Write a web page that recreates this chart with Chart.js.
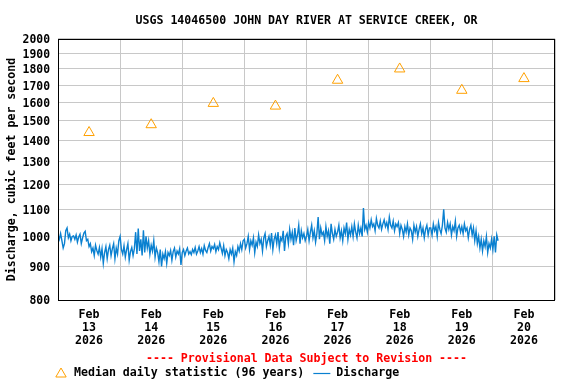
<!DOCTYPE html>
<html><head><meta charset="utf-8">
<script src="https://cdn.jsdelivr.net/npm/chart.js@4/dist/chart.umd.min.js"></script>
<style>html,body{margin:0;padding:0;background:#fff;}#wrap{width:576px;height:384px;}</style>
</head><body><div id="wrap"><canvas id="c" width="576" height="384"></canvas></div>
<script>
const TITLE = 'USGS 14046500 JOHN DAY RIVER AT SERVICE CREEK, OR';
const Y_TITLE = 'Discharge, cubic feet per second';
const PROVISIONAL = '---- Provisional Data Subject to Revision ----';
const MEDIAN_LABEL = 'Median daily statistic (96 years)';
const DISCHARGE_LABEL = 'Discharge';
const MONTH_LABEL = 'Feb';
const YEAR_LABEL = '2026';
const DAY_LABELS = ['13','14','15','16','17','18','19','20'];
const Y_TICKS = [800,900,1000,1100,1200,1300,1400,1500,1600,1700,1800,1900,2000];
const MEDIAN_DAILY = [1440,1480,1595,1580,1730,1800,1670,1740];
const STEP_HOURS = 0.5;
const Q_FEB13 = [1005,990,1010,985,960,975,1020,1030,995,1008,985,1000,
 1002,990,1005,980,998,1008,975,995,1012,1018,985,990,
 965,975,948,960,935,970,952,940,962,930,958,910,
 945,965,925,955,970,935,958,975,925,960,940,985];
const Q_FEB14 = [1000,955,940,968,930,955,975,920,948,962,935,958,
 1015,940,1028,950,990,935,1022,945,1000,960,985,940,
 970,950,985,930,960,945,915,955,900,940,925,948,
 910,945,935,952,920,948,960,930,950,940,958,905];
const Q_FEB15 = [945,955,935,950,960,940,948,938,955,945,962,940,
 950,965,945,958,940,968,952,945,962,975,950,965,
 958,972,948,965,955,978,960,942,968,935,955,945,
 925,955,940,960,915,948,935,965,950,975,955,985];
const Q_FEB16 = [990,960,975,1000,955,985,970,995,945,980,965,1005,
 975,990,950,995,1010,965,985,1000,970,1012,955,990,
 1005,975,1015,960,995,985,1020,950,1000,1010,975,1025,
 990,1015,970,1030,985,1005,1040,975,1020,995,1010,985];
const Q_FEB17 = [1000,1025,985,1015,1040,995,1020,980,1010,1070,990,1030,
 1005,1015,985,1035,1000,1020,975,1045,1010,990,1025,1000,
 1015,1040,995,1020,985,1030,1010,1050,990,1025,1005,1035,
 1000,1045,1015,995,1040,1010,1030,1000,1105,1025,1040,1015];
const Q_FEB18 = [1050,1030,1060,1035,1045,1020,1065,1040,1030,1055,1025,1045,
 1060,1035,1050,1025,1070,1040,1030,1055,1020,1045,1035,1050,
 1010,1040,1025,1000,1035,1015,1045,1005,1030,1020,990,1040,
 1015,1035,1000,1025,1045,1010,1030,995,1025,1040,1005,1030];
const Q_FEB19 = [1030,1005,1045,1020,1035,1000,1050,1025,1010,1040,1100,1030,
 1015,1050,1025,1045,1005,1035,1020,1055,1000,1030,1040,1015,
 1035,1010,1045,1020,1030,995,1025,1040,1005,1030,985,1020,
 975,1000,960,990,950,985,965,1000,945,975,960,990];
const Q_FEB20 = [955,1000,945,1005,985];

const FONT = '"DejaVu Sans Mono", "Liberation Mono", monospace';
const BLUE = '#0a80d0';
const ORANGE = '#ffa000';
const GRID = '#c8c8c8';

const discharge = [].concat(Q_FEB13,Q_FEB14,Q_FEB15,Q_FEB16,Q_FEB17,Q_FEB18,Q_FEB19,Q_FEB20)
  .map((v,i)=>({x:i*STEP_HOURS, y:v}));
const medians = MEDIAN_DAILY.map((v,i)=>({x:12+24*i, y:v}));

const framePlugin = {
  id:'frame',
  afterDraw(chart){
    const {ctx, chartArea:a} = chart;
    ctx.save();
    ctx.strokeStyle = '#000'; ctx.lineWidth = 1;
    ctx.strokeRect(Math.round(a.left)+0.5, Math.round(a.top)+0.5, Math.round(a.right-a.left)-1, Math.round(a.bottom-a.top));
    ctx.restore();
  }
};
const footerPlugin = {
  id:'footer',
  afterDraw(chart){
    const {ctx, chartArea:a} = chart;
    ctx.save();
    ctx.font = 'bold 11.6px ' + FONT;
    ctx.textBaseline = 'middle';
    ctx.textAlign = 'center';
    ctx.fillStyle = '#ff0000';
    ctx.fillText(PROVISIONAL, (a.left+a.right)/2, 359);
    const ly = 373;
    ctx.strokeStyle = ORANGE; ctx.lineWidth = 1;
    ctx.beginPath();
    const r = 6, t = -Math.PI/2;
    for (let k=0;k<3;k++){ const ang = t + k*2*Math.PI/3; const px = 61 + Math.cos(ang)*r, py = ly + 1 + Math.sin(ang)*r; if(k===0) ctx.moveTo(px,py); else ctx.lineTo(px,py);} 
    ctx.closePath(); ctx.stroke();
    ctx.textAlign = 'left'; ctx.fillStyle = '#000';
    let x = 74;
    ctx.fillText(MEDIAN_LABEL, x, ly);
    x += ctx.measureText(MEDIAN_LABEL).width + 9;
    ctx.strokeStyle = BLUE; ctx.lineWidth = 1.2;
    ctx.beginPath(); ctx.moveTo(x, ly+0.5); ctx.lineTo(x+17, ly+0.5); ctx.stroke();
    ctx.fillText(DISCHARGE_LABEL, x+23, ly);
    ctx.restore();
  }
};

new Chart(document.getElementById('c'), {
  type:'line',
  data:{datasets:[
    {label:MEDIAN_LABEL, data:medians, showLine:false, pointStyle:'triangle', pointRadius:6, pointHoverRadius:6,
     borderColor:ORANGE, backgroundColor:'rgba(0,0,0,0)', pointBorderWidth:1, order:1},
    {label:DISCHARGE_LABEL, data:discharge, borderColor:BLUE, borderWidth:1.4, pointRadius:0, tension:0, order:2}
  ]},
  options:{
    responsive:false, animation:false, devicePixelRatio:1,
    layout:{padding:{left:0,right:21,top:0,bottom:0}},
    plugins:{
      legend:{display:false}, tooltip:{enabled:false},
      title:{display:true, text:TITLE, color:'#000', fullSize:false,
        font:{family:FONT, size:11.6, weight:'bold'}, padding:{top:14,bottom:11}}
    },
    scales:{
      x:{type:'linear', min:0, max:192,
        afterBuildTicks:(s)=>{ const t=[]; for(let h=0;h<=192;h+=12) t.push({value:h}); s.ticks=t; },
        afterFit:(s)=>{ s.height = 84; },
        grid:{color:(c)=> (c.tick && c.tick.value%24===0) ? GRID : 'rgba(0,0,0,0)', drawTicks:false, lineWidth:1},
        border:{display:false},
        ticks:{autoSkip:false, maxRotation:0, padding:8, color:'#000',
          font:{family:FONT, size:11.6, weight:'bold', lineHeight:1.15},
          callback:(v)=> (v%24===12) ? [MONTH_LABEL, DAY_LABELS[(v-12)/24], YEAR_LABEL] : ''}
      },
      y:{type:'logarithmic', min:800, max:2000,
        afterBuildTicks:(s)=>{ s.ticks = Y_TICKS.map(v=>({value:v})); },
        afterFit:(s)=>{ s.width = 58; },
        grid:{color:GRID, drawTicks:false, lineWidth:1},
        border:{display:false},
        ticks:{padding:8, labelOffset:1.5, color:'#000', font:{family:FONT, size:11.4, weight:'bold'}, callback:(v)=> String(v)},
        title:{display:true, text:Y_TITLE, color:'#000', font:{family:FONT, size:11.6, weight:'bold'}, padding:{top:5,bottom:0}}
      }
    }
  },
  plugins:[framePlugin, footerPlugin]
});
</script></body></html>
